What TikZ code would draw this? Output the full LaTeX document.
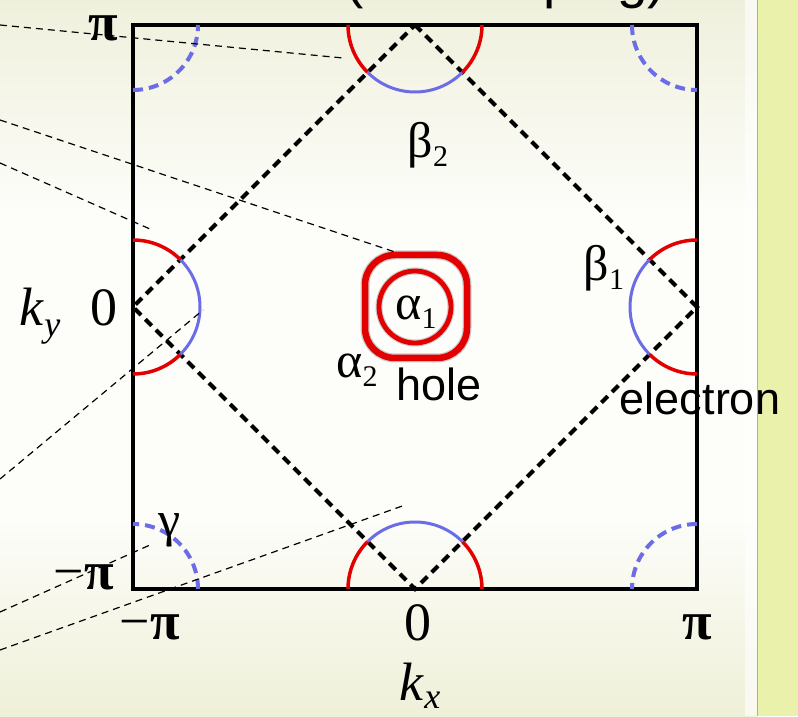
\documentclass[tikz,border=0pt]{standalone}
\usepackage{fontspec}
\setmainfont{Liberation Serif}
\newfontfamily\sansfont{Liberation Sans}
\usetikzlibrary{positioning}
\definecolor{fsred}{RGB}{226,0,0}
\definecolor{fsblue}{RGB}{108,108,230}
\definecolor{bgtop}{RGB}{239,240,220}
\definecolor{bgmid}{RGB}{253,253,250}
\definecolor{bgbot}{RGB}{239,240,216}
\definecolor{panel}{RGB}{233,241,170}
\newcommand\lowsub[2]{#1\raisebox{-.18em}{\fontsize{30}{30}\selectfont #2}}

\begin{document}
\begin{tikzpicture}[x=1pt, y=1pt,
  bzone/.style={line width=3.5pt},
  fold/.style={line width=4pt, dash pattern=on 9pt off 6pt},
  proj/.style={line width=1.2pt, dash pattern=on 7pt off 5pt},
  elred/.style={fsred, line width=3.5pt},
  elblue/.style={fsblue, line width=3pt},
  gampocket/.style={fsblue, line width=4pt, dash pattern=on 10pt off 6pt},
  tick/.style={font=\fontsize{54}{54}\selectfont, inner sep=0pt},
  pocket/.style={font=\fontsize{50}{50}\selectfont, inner sep=0pt},
  word/.style={font=\sansfont\fontsize{45}{45}\selectfont, inner sep=0pt}]
  \useasboundingbox (0,0) rectangle (798,716);
  \clip (0,0) rectangle (798,716);
  % slide background and side panel
  \fill[bgmid] (0,0) rectangle (757,716);
  \shade[top color=bgtop, bottom color=bgmid] (0,500) rectangle (757,716);
  \shade[top color=bgmid, bottom color=bgbot] (0,0) rectangle (757,200);
  \fill[white, opacity=.6] (745,0) rectangle (757,716);
  \fill[panel] (757,0) rectangle (798,716);
  \draw[panel!75!black, line width=.6pt] (757,0) -- (757,716);
  \node[anchor=base west, inner sep=0pt, font=\sansfont\fontsize{55}{55}\selectfont] (title) at (345,718.5) {(hole doping)};

  \coordinate (G) at (415,409);
  \coordinate (Ml) at (133,409);
  \coordinate (Mr) at (697,409);
  \coordinate (Mt) at (415,691);
  \coordinate (Mb) at (415,127);
  \coordinate (TL) at (133,691);
  \coordinate (TR) at (697,691);
  \coordinate (BL) at (133,127);
  \coordinate (BR) at (697,127);

  \draw[bzone] (BL) rectangle (TR);
  \draw[fold] (Mt) -- (Mr) -- (Mb) -- (Ml) -- cycle;

  % electron pockets at the zone edges
  \foreach \p/\t in {Ml/0, Mr/180, Mt/270, Mb/90} {
    \pgfmathsetmacro{\sa}{\t-90}
    \pgfmathsetmacro{\sb}{\t-45}
    \pgfmathsetmacro{\sc}{\t+45}
    \draw[elred] (\p) ++(\sa:67) arc[start angle=\sa, delta angle=45, radius=67];
    \draw[elblue] (\p) ++(\sb:67) arc[start angle=\sb, delta angle=90, radius=67];
    \draw[elred] (\p) ++(\sc:67) arc[start angle=\sc, delta angle=45, radius=67];
  }
  % gamma pockets in the corners
  \foreach \p/\a in {TL/270, TR/180, BR/90, BL/0}
    \draw[gampocket] (\p) ++(\a:65) arc[start angle=\a, delta angle=90, radius=65];
  % hole pockets at Gamma
  \draw[gray!40, line width=9pt, rounded corners=30pt] (365,358) rectangle (467,461);
  \draw[fsred, line width=6.5pt, rounded corners=30pt] (365,358) rectangle (467,461);
  \draw[gray!40, line width=7pt] (G) circle[radius=36];
  \draw[fsred, line width=4.8pt] (G) circle[radius=36];

  \foreach \ya/\xb/\yb in {691/343/658, 596/395/464, 553/150/487, 237/203/406, 104/150/171, 66/405/211}
    \draw[proj] (0,\ya) -- (\xb,\yb);

  \node[tick] (pitop) at (103,688) {\textbf{π}};
  \node[tick] (zeroy) at (104,408) {0};
  \node[tick] (ky) at (40,400) {\textit{k}\raisebox{-.2em}{\fontsize{36}{36}\selectfont\textit{y}}};
  \node[tick] (mpil) at (84,139) {−\textbf{π}};
  \node[tick] (mpib) at (150,89) {−\textbf{π}};
  \node[tick] (zerox) at (418,93) {0};
  \node[tick] (pir) at (697,89) {\textbf{π}};
  \node[tick] (kx) at (420,30) {\textit{k}\raisebox{-.15em}{\fontsize{36}{36}\selectfont\textit{x}}};

  \node[pocket] (b2) at (428,571) {\lowsub{β}{2}};
  \node[pocket] (b1) at (604,448) {\lowsub{β}{1}};
  \node[pocket] (a1) at (416,404) {\lowsub{α}{1}};
  \node[pocket] (a2) at (357,346) {\lowsub{α}{2}};
  \node[pocket] (gam) at (170,186) {γ};
  \node[word] (hole) at (439,332) {hole};
  \node[word] (elec) at (700,318) {electron};
\end{tikzpicture}
\end{document}
